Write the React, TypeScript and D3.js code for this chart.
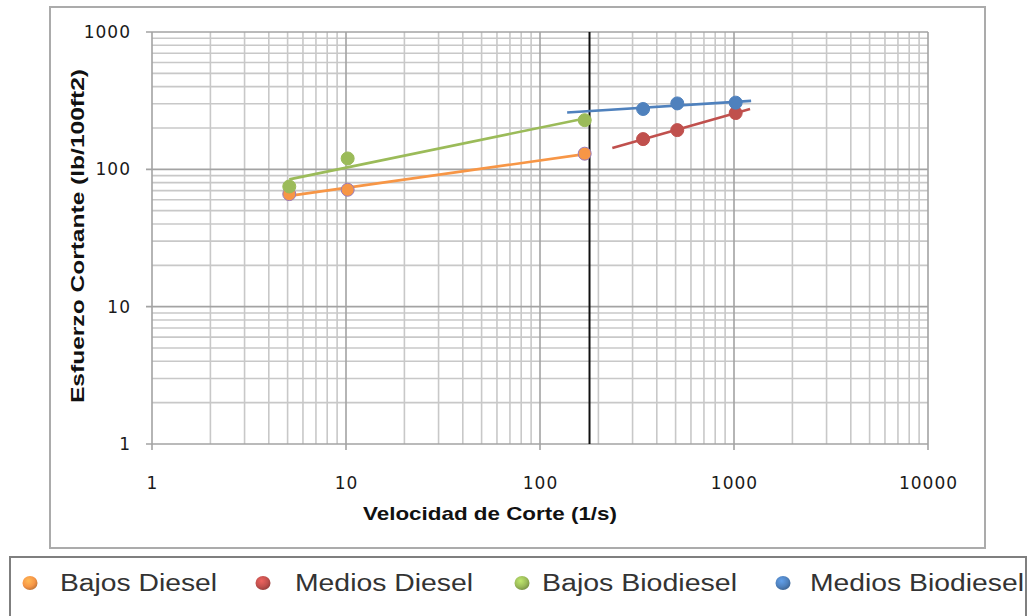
import React from "react";
import * as d3 from "d3";

// ---- Data ----
const bajosRates = [5.1, 10.2, 170];
const mediosRates = [340, 510, 1020];
const bajosDiesel = [66, 71, 130];
const mediosDiesel = [166, 193, 257];
const bajosBiodiesel = [75, 120, 228];
const mediosBiodiesel = [275, 302, 306];
// trendline extents (x from, x to) as drawn by the spreadsheet (forecast)
const bajosDieselTrend = [5.1, 170];
const mediosDieselTrend = [236, 1210];
const bajosBiodieselTrend = [5.1, 170];
const mediosBiodieselTrend = [138, 1225];
const markerRate = 180;
const xTicks = [1, 10, 100, 1000, 10000];
const yTicks = [1, 10, 100, 1000];
const seriesNames = ["Bajos Diesel", "Medios Diesel", "Bajos Biodiesel", "Medios Biodiesel"];
const seriesColors = ["#F79646", "#C0504D", "#9BBB59", "#4F81BD"];

const W = 1029;
const H = 616;
const PL = 152, PR = 928, PT = 32, PB = 444;

function powerFit(xs: number[], ys: number[]) {
  const lx = xs.map(Math.log10);
  const ly = ys.map(Math.log10);
  const mx = d3.mean(lx)!;
  const my = d3.mean(ly)!;
  let sxy = 0, sxx = 0;
  lx.forEach((v, i) => {
    sxy += (v - mx) * (ly[i] - my);
    sxx += (v - mx) * (v - mx);
  });
  const b = sxy / sxx;
  const a = my - b * mx;
  return (x: number) => Math.pow(10, a + b * Math.log10(x));
}

export default function App() {
  const x = d3.scaleLog().domain([1, 10000]).range([PL, PR]);
  const y = d3.scaleLog().domain([1, 1000]).range([PB, PT]);

  const minorX: number[] = [];
  for (let d = 1; d < 10000; d *= 10) for (let k = 2; k <= 9; k++) minorX.push(d * k);
  const minorY: number[] = [];
  for (let d = 1; d < 1000; d *= 10) for (let k = 2; k <= 9; k++) minorY.push(d * k);

  const series = [
    { xs: bajosRates, ys: bajosDiesel, trend: bajosDieselTrend },
    { xs: mediosRates, ys: mediosDiesel, trend: mediosDieselTrend },
    { xs: bajosRates, ys: bajosBiodiesel, trend: bajosBiodieselTrend },
    { xs: mediosRates, ys: mediosBiodiesel, trend: mediosBiodieselTrend },
  ];

  const line = d3
    .line<[number, number]>()
    .x((d) => x(d[0]))
    .y((d) => y(d[1]));

  const legendX = [30, 263, 522, 783];
  const legendTextX = [60, 295, 542, 810];
  const legendTextW = [157, 178, 195, 214];

  return (
    <svg
      width={W}
      height={H}
      style={{ position: "fixed", left: 0, top: 0, background: "#fff" }}
      fontFamily="'Liberation Sans', Arial, sans-serif"
    >
      <defs>
        {seriesColors.map((c, i) => (
          <radialGradient key={i} id={`lg${i}`} cx="40%" cy="35%" r="70%">
            <stop offset="0%" stopColor={d3.color(c)!.brighter(0.6).toString()} />
            <stop offset="60%" stopColor={c} />
            <stop offset="100%" stopColor={d3.color(c)!.darker(0.8).toString()} />
          </radialGradient>
        ))}
      </defs>
      <rect x={0} y={0} width={W} height={H} fill="#fff" />
      {/* chart frame */}
      <rect x={50} y={7} width={935} height={541} fill="#fff" stroke="#ababab" strokeWidth={2} />

      {/* minor gridlines */}
      {minorX.map((v) => (
        <line key={"mx" + v} x1={x(v)} x2={x(v)} y1={PT} y2={PB} stroke="#c8c8c8" strokeWidth={1.6} />
      ))}
      {minorY.map((v) => (
        <line key={"my" + v} x1={PL} x2={PR} y1={y(v)} y2={y(v)} stroke="#c8c8c8" strokeWidth={1.6} />
      ))}
      {/* major gridlines */}
      {xTicks.map((v) => (
        <line key={"gx" + v} x1={x(v)} x2={x(v)} y1={PT} y2={PB + 6} stroke="#a3a3a3" strokeWidth={1.6} />
      ))}
      {yTicks.map((v) => (
        <line key={"gy" + v} x1={PL - 6} x2={PR} y1={y(v)} y2={y(v)} stroke="#a3a3a3" strokeWidth={1.6} />
      ))}

      {/* vertical reference line */}
      <line x1={x(markerRate)} x2={x(markerRate)} y1={PT} y2={PB} stroke="#111" strokeWidth={2} />

      {/* trendlines */}
      {series.map((s, i) => {
        const f = powerFit(s.xs, s.ys);
        const pts: [number, number][] = s.trend.map((v) => [v, f(v)] as [number, number]);
        return (
          <path key={"t" + i} d={line(pts)!} fill="none" stroke={seriesColors[i]} strokeWidth={2.6} />
        );
      })}

      {/* markers */}
      {series.map((s, i) =>
        s.xs.map((v, j) => (
          <circle
            key={"p" + i + "-" + j}
            cx={x(v)}
            cy={y(s.ys[j])}
            r={6.5}
            fill={seriesColors[i]}
            stroke={i === 0 ? "#9a7ab8" : seriesColors[i]}
            strokeWidth={1}
          />
        ))
      )}

      {/* tick labels */}
      {yTicks.map((v) => (
        <text
          key={"yl" + v}
          x={131}
          y={y(v)}
          dy="0.36em"
          textAnchor="end"
          fontFamily="'DejaVu Sans', Verdana, sans-serif"
          fontSize={17}
          letterSpacing={1}
          fill="#1a1a1a"
        >
          {v}
        </text>
      ))}
      {xTicks.map((v) => (
        <text
          key={"xl" + v}
          x={x(v) + 0.5}
          y={483}
          dy="0.36em"
          textAnchor="middle"
          fontFamily="'DejaVu Sans', Verdana, sans-serif"
          fontSize={17}
          letterSpacing={1}
          fill="#1a1a1a"
        >
          {v}
        </text>
      ))}

      {/* axis titles */}
      <text
        x={490}
        y={520}
        textAnchor="middle"
        fontWeight="bold"
        fontSize={19}
        fill="#111"
        textLength={254}
        lengthAdjust="spacingAndGlyphs"
      >
        Velocidad de Corte (1/s)
      </text>
      <text
        transform="translate(84,236) rotate(-90)"
        textAnchor="middle"
        fontWeight="bold"
        fontSize={19}
        fill="#111"
        textLength={334}
        lengthAdjust="spacingAndGlyphs"
      >
        Esfuerzo Cortante  (lb/100ft2)
      </text>

      {/* legend */}
      <rect x={10} y={557} width={1016} height={70} fill="#fff" stroke="#7f7f7f" strokeWidth={2} />
      {seriesNames.map((n, i) => (
        <g key={"lg" + i}>
          <ellipse cx={legendX[i]} cy={583} rx={7.5} ry={7} fill={`url(#lg${i})`} />
          <text
            x={legendTextX[i]}
            y={591}
            fontSize={23}
            fill="#333"
            textLength={legendTextW[i]}
            lengthAdjust="spacingAndGlyphs"
          >
            {n}
          </text>
        </g>
      ))}
    </svg>
  );
}
